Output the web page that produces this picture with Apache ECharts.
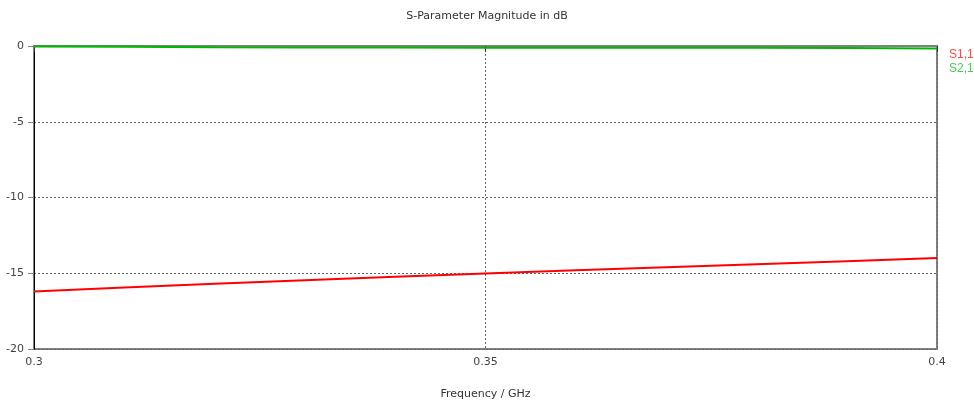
<!DOCTYPE html>
<html><head><meta charset="utf-8">
<script src="https://cdn.jsdelivr.net/npm/echarts@6/dist/echarts.min.js"></script>
<style>html,body{margin:0;padding:0;background:#fff}#c{width:974px;height:405px}</style>
</head><body><div id="c"></div>
<script>
const freq = [0.30, 0.31, 0.32, 0.33, 0.34, 0.35, 0.36, 0.37, 0.38, 0.39, 0.40];
const s11 = [-16.2, -15.94, -15.69, -15.46, -15.23, -15.02, -14.81, -14.6, -14.4, -14.2, -14.0];
const s21 = [-0.03, -0.05, -0.09, -0.1, -0.1, -0.11, -0.11, -0.12, -0.12, -0.14, -0.17];
const seriesNames = ['S1,1', 'S2,1'];
const font = 'DejaVu Sans';
const chart = echarts.init(document.getElementById('c'));
chart.setOption({
  animation: false,
  title: { text: 'S-Parameter Magnitude in dB', left: 'center', top: 6,
    textStyle: { fontFamily: font, fontSize: 11, fontWeight: 'normal', color: '#333' } },
  legend: { orient: 'vertical', left: 944, top: 49, padding: 0, itemWidth: 0, itemHeight: 0, itemGap: 2, icon: 'none',
    data: [
      { name: seriesNames[0], textStyle: { color: '#ff4a4a' } },
      { name: seriesNames[1], textStyle: { color: '#4ccc4c' } }
    ],
    textStyle: { fontFamily: 'Liberation Sans', fontSize: 12, padding: 0 } },
  grid: { left: 34, right: 37, top: 46, bottom: 54, show: true, borderColor: '#808080', borderWidth: 2 },
  xAxis: { type: 'value', min: 0.3, max: 0.4, interval: 0.05,
    name: 'Frequency / GHz', nameLocation: 'middle', nameGap: 40,
    nameTextStyle: { fontFamily: font, fontSize: 11, color: '#333' },
    axisLine: { show: true, lineStyle: { color: '#808080', width: 2 } },
    axisTick: { show: true, length: 6, lineStyle: { color: '#333' } },
    axisLabel: { fontFamily: font, fontSize: 11, color: '#444', margin: 8,
      formatter: v => String(+v.toFixed(2)) },
    splitLine: { show: true, lineStyle: { color: '#666', type: [2, 2], width: 1 } } },
  yAxis: { type: 'value', min: -20, max: 0, interval: 5,
    axisLine: { show: true, lineStyle: { color: '#000', width: 1 } },
    axisTick: { show: true, length: 6, lineStyle: { color: '#808080' } },
    axisLabel: { fontFamily: font, fontSize: 11, color: '#444', margin: 10, padding: [0, 0, 10, 0] },
    splitLine: { show: true, lineStyle: { color: '#666', type: [2, 2], width: 1 } } },
  series: [
    { name: seriesNames[0], type: 'line', data: freq.map((f, i) => [f, s11[i]]), showSymbol: false,
      lineStyle: { color: '#ff0000', width: 2 }, itemStyle: { color: '#ff0000' } },
    { name: seriesNames[1], type: 'line', data: freq.map((f, i) => [f, s21[i]]), showSymbol: false,
      lineStyle: { color: '#00b800', width: 2 }, itemStyle: { color: '#00b800' } }
  ]
});
</script></body></html>
